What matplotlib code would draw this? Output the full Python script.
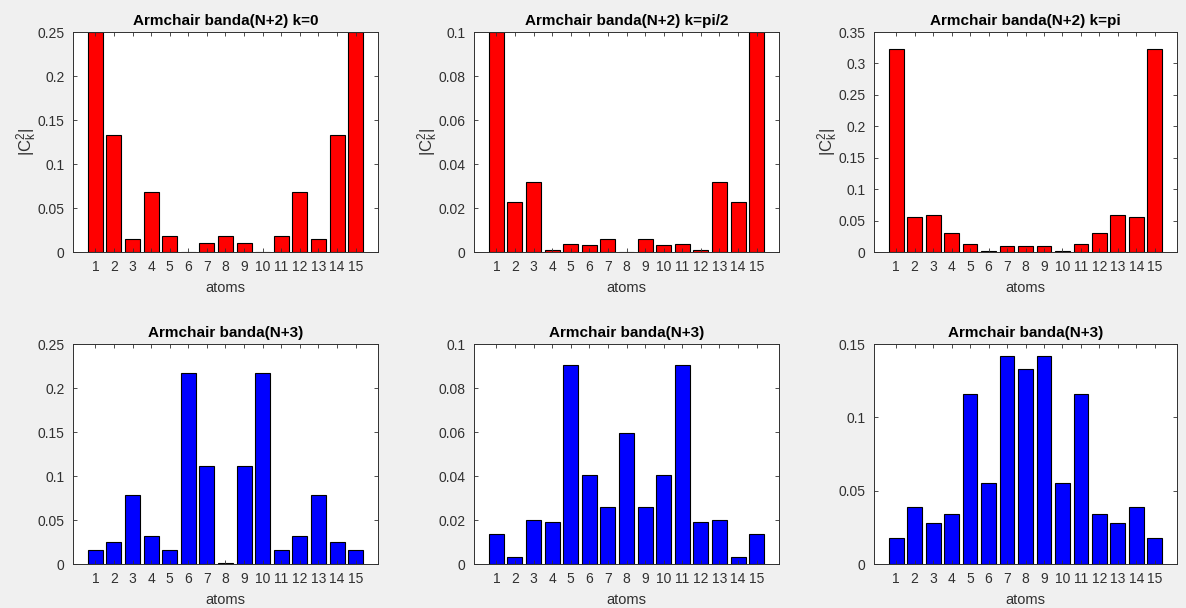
import numpy as np
import matplotlib
matplotlib.use("Agg")
import matplotlib.pyplot as plt
from matplotlib.ticker import FormatStrFormatter

plt.rcParams["font.family"] = ["Liberation Sans", "DejaVu Sans"]
plt.rcParams["mathtext.default"] = "regular"

atoms = np.arange(1, 16)

# band N+2 at three k values
n2_k0 = [0.25, 0.1333, 0.0143, 0.0678, 0.0179, 0.0, 0.0107, 0.0179,
         0.0107, 0.0, 0.0179, 0.0678, 0.0143, 0.1333, 0.25]
n2_kpi2 = [0.1, 0.0226, 0.032, 0.0011, 0.0036, 0.0032, 0.0061, 0.0,
           0.0061, 0.0032, 0.0036, 0.0011, 0.032, 0.0226, 0.1]
n2_kpi = [0.323, 0.0562, 0.0594, 0.0308, 0.0133, 0.002, 0.0095, 0.0095,
          0.0095, 0.002, 0.0133, 0.0308, 0.0594, 0.0562, 0.323]

# band N+3
n3_a = [0.0159, 0.025, 0.0787, 0.0318, 0.0159, 0.2175, 0.1116, 0.0011,
        0.1116, 0.2175, 0.0159, 0.0318, 0.0787, 0.025, 0.0159]
n3_b = [0.0135, 0.0032, 0.020, 0.0191, 0.0905, 0.0405, 0.0259, 0.0596,
        0.0259, 0.0405, 0.0905, 0.0191, 0.020, 0.0032, 0.0135]
n3_c = [0.0177, 0.0388, 0.0281, 0.034, 0.116, 0.0554, 0.142, 0.1332,
        0.142, 0.0554, 0.116, 0.034, 0.0281, 0.0388, 0.0177]

panels = [
    (n2_k0, "Armchair banda(N+2) k=0", 0.25, 0.05, "red", True),
    (n2_kpi2, "Armchair banda(N+2) k=pi/2", 0.1, 0.02, "red", True),
    (n2_kpi, "Armchair banda(N+2) k=pi", 0.35, 0.05, "red", True),
    (n3_a, "Armchair banda(N+3)", 0.25, 0.05, "blue", False),
    (n3_b, "Armchair banda(N+3)", 0.1, 0.02, "blue", False),
    (n3_c, "Armchair banda(N+3)", 0.15, 0.05, "blue", False),
]

W, H = 1186, 608
lefts = [73, 474, 874]
widths = [305, 305, 303]
tops = [32, 344]
ax_h = 220

fig = plt.figure(figsize=(W / 100, H / 100), dpi=100)
fig.patch.set_facecolor("#f0f0f0")

grey = "#303030"
for i, (vals, title, ymax, ystep, color, ylab) in enumerate(panels):
    r, c = divmod(i, 3)
    ax = fig.add_axes([lefts[c] / W, 1 - (tops[r] + ax_h) / H,
                       widths[c] / W, ax_h / H])
    ax.bar(atoms, vals, width=0.8, color=color, edgecolor="black",
           linewidth=0.8)
    ax.set_xlim(-0.2, 16.2)
    ax.set_ylim(0, ymax)
    ax.set_xticks(atoms)
    ax.set_yticks(np.arange(0, ymax + ystep / 2, ystep))
    ax.yaxis.set_major_formatter(FormatStrFormatter("%g"))
    ax.tick_params(direction="in", top=True, right=True, length=3,
                   width=0.6, colors=grey, labelsize=10, pad=6)
    for s in ax.spines.values():
        s.set_color(grey)
        s.set_linewidth(0.7)
    ax.set_title(title, fontsize=11, fontweight="bold", pad=5)
    ax.set_xlabel("atoms", fontsize=10.5, color=grey, labelpad=5)
    if ylab:
        ax.set_ylabel("|C$^2_k$|", fontsize=12, color=grey, labelpad=-1)

fig.savefig("out.png", dpi=100, facecolor=fig.get_facecolor())
